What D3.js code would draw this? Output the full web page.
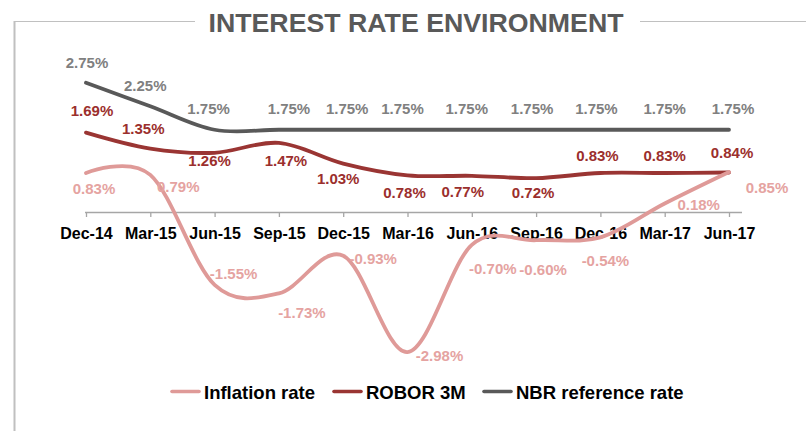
<!DOCTYPE html>
<html>
<head>
<meta charset="utf-8">
<script src="https://cdn.jsdelivr.net/npm/d3@7"></script>
<style>
  body { margin: 0; background: #fff; }
  svg { display: block; font-family: "Liberation Sans", Arial, sans-serif; }
</style>
</head>
<body>
<svg id="chart" width="806" height="431"></svg>
<script>
// chart data
var quarters = ['Dec-14', 'Mar-15', 'Jun-15', 'Sep-15', 'Dec-15', 'Mar-16', 'Jun-16', 'Sep-16', 'Dec-16', 'Mar-17', 'Jun-17'];
var inflation = [0.83, 0.79, -1.55, -1.73, -0.93, -2.98, -0.70, -0.60, -0.54, 0.18, 0.85];
var robor3m = [1.69, 1.35, 1.26, 1.47, 1.03, 0.78, 0.77, 0.72, 0.83, 0.83, 0.84];
var nbrRate = [2.75, 2.25, 1.75, 1.75, 1.75, 1.75, 1.75, 1.75, 1.75, 1.75, 1.75];

// label nudges (px) relative to each point, as placed in the original
var inflationLabelOffsets = [[8, 16], [28, 12], [19, -11], [23, 19], [30, 3], [32, 3], [21, 24], [7, 29], [5, 23], [34, 1], [38, 15]];
var roborLabelOffsets = [[6, -22], [-7, -20], [-5, 8], [7, 18], [-5, 15], [-3, 17], [-9, 16], [-3, 14], [-3, -17], [0, -17], [3, -20]];
var nbrLabelOffsets = [[1, -20], [-5, -21], [-6, -21], [10, -21], [4, -21], [-5, -21], [-5, -21], [-4, -21], [-4, -21], [0, -21], [4, -21]];

var series = [
  {name: 'Inflation rate', values: inflation, offsets: inflationLabelOffsets, line: '#df9a98', label: '#e5a3a1'},
  {name: 'ROBOR 3M', values: robor3m, offsets: roborLabelOffsets, line: '#9a3533', label: '#9b2f2d'},
  {name: 'NBR reference rate', values: nbrRate, offsets: nbrLabelOffsets, line: '#595959', label: '#808080'}
];

var svg = d3.select('#chart');

var x = d3.scalePoint().domain(quarters).range([86, 729]);
var y = d3.scaleLinear().domain([-3, 3]).range([353, 71]);

// frame + title
var frame = svg.append('g').attr('class', 'frame');
frame.append('line').attr('x1', 14.5).attr('x2', 14.5).attr('y1', 21).attr('y2', 431)
  .attr('stroke', '#c0c0c0').attr('stroke-width', 2);
frame.append('line').attr('x1', 14).attr('x2', 195).attr('y1', 21.5).attr('y2', 21.5)
  .attr('stroke', '#c0c0c0').attr('stroke-width', 1.2);
frame.append('line').attr('x1', 640).attr('x2', 806).attr('y1', 21.5).attr('y2', 21.5)
  .attr('stroke', '#c0c0c0').attr('stroke-width', 1.2);

svg.append('text')
  .attr('x', 416).attr('y', 32)
  .attr('text-anchor', 'middle')
  .attr('font-size', 26.5).attr('font-weight', 'bold')
  .attr('fill', '#595959')
  .attr('textLength', 415).attr('lengthAdjust', 'spacingAndGlyphs')
  .text('INTEREST RATE ENVIRONMENT');

// x axis at zero
var xAxis = svg.append('g')
  .attr('transform', 'translate(0,' + y(0) + ')')
  .call(d3.axisBottom(x).tickSize(5).tickSizeOuter(0));
xAxis.select('.domain').attr('d', 'M85,0.5H742').attr('stroke', '#a6a6a6').attr('stroke-width', 1.3);
xAxis.selectAll('.tick line').attr('stroke', '#a6a6a6').attr('stroke-width', 1.3);
xAxis.selectAll('.tick text')
  .attr('y', 27).attr('dy', 0)
  .attr('font-size', 16).attr('font-weight', 'bold')
  .attr('font-family', '"Liberation Sans", Arial, sans-serif')
  .attr('fill', '#000');

// lines
var line = d3.line()
  .x(function(d, i) { return x(quarters[i]); })
  .y(function(d) { return y(d); })
  .curve(d3.curveCardinal.tension(0));

svg.append('g').attr('class', 'lines')
  .selectAll('path')
  .data(series.slice().reverse())
  .enter().append('path')
    .attr('d', function(s) { return line(s.values); })
    .attr('fill', 'none')
    .attr('stroke', function(s) { return s.line; })
    .attr('stroke-width', 3.8)
    .attr('stroke-linecap', 'round');

// data labels
series.forEach(function(s) {
  svg.append('g').attr('class', 'labels')
    .selectAll('text')
    .data(s.values)
    .enter().append('text')
      .attr('x', function(d, i) { return x(quarters[i]) + s.offsets[i][0]; })
      .attr('y', function(d, i) { return y(d) + s.offsets[i][1] + 5.5; })
      .attr('text-anchor', 'middle')
      .attr('font-size', 15).attr('font-weight', 'bold')
      .attr('fill', s.label)
      .text(function(d) { return d.toFixed(2) + '%'; });
});

// legend
var legendX = [171, 333, 483];
var legend = svg.append('g').attr('class', 'legend')
  .selectAll('g')
  .data(series)
  .enter().append('g')
    .attr('transform', function(d, i) { return 'translate(' + legendX[i] + ',391.5)'; });
legend.append('line')
  .attr('x1', 1).attr('x2', 28).attr('y1', 0).attr('y2', 0)
  .attr('stroke', function(d) { return d.line; })
  .attr('stroke-width', 3.6)
  .attr('stroke-linecap', 'round');
legend.append('text')
  .attr('x', 33).attr('y', 7)
  .attr('font-size', 18.5).attr('font-weight', 'bold')
  .attr('fill', '#000')
  .text(function(d) { return d.name; });
</script>
</body>
</html>
